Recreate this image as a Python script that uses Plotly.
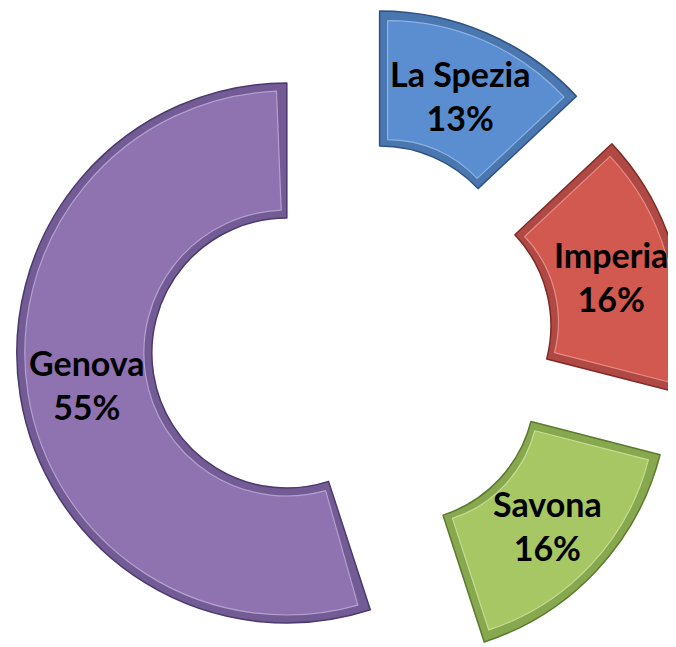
import math
import plotly.graph_objects as go

labels = ["La Spezia", "Imperia", "Savona", "Genova"]
values = [13, 16, 16, 55]
colors = ["#5B8ED0", "#D2594F", "#A6C764", "#8F72B0"]
band_colors = ["#4A77B0", "#B04843", "#88A84F", "#735B95"]
edge_colors = ["#2F5282", "#7E2B27", "#5C7A2E", "#4B3A6D"]
light_colors = ["#8DB2E2", "#E48D87", "#C6DD92", "#B4A0CE"]

W, H = 676, 647
# layout constants in figure pixels: unexploded centre, explosion distance, radius, bevel width
CX, CY, EXPLODE, R, BEVEL = 345.0, 334.5, 67.0, 270.0, 8.0
HOLE = 0.5
LABEL_R = (1 + HOLE) / 2  # labels sit midway across the ring


def pie_part(names, vals, fills, lines, lw, cx, cy, rad, hole):
    return go.Pie(
        labels=names, values=vals, sort=False,
        direction="clockwise", rotation=0, hole=hole,
        marker=dict(colors=fills, line=dict(color=lines, width=lw)),
        textinfo="none",
        domain=dict(x=[(cx - rad) / W, (cx + rad) / W],
                    y=[1 - (cy + rad) / H, 1 - (cy - rad) / H]),
        showlegend=False, hoverinfo="skip",
    )


total = float(sum(values))
clear = "rgba(0,0,0,0)"
fig = go.Figure()
annotations = []
start = 0.0
for i, lab in enumerate(labels):
    span = 360.0 * values[i] / total
    mid = math.radians(start + span / 2)
    start += span
    ux, uy = math.sin(mid), -math.cos(mid)
    vx, vy = CX + EXPLODE * ux, CY + EXPLODE * uy
    half = min(R, vx, W - vx, vy, H - vy)

    # the slice itself (its rim forms the bevel band)
    fills = [clear] * len(labels)
    fills[i] = band_colors[i]
    lines = [clear] * len(labels)
    lines[i] = edge_colors[i]
    fig.add_trace(pie_part(labels, values, fills, lines, 1.5, vx, vy, half, HOLE))

    # inset face of the slice
    pre = sum(values[:i])
    post = sum(values[i + 1:])
    if span < 180:
        s = BEVEL / math.sin(math.radians(span / 2))
        fx, fy = vx + s * ux, vy + s * uy
        r2 = half - s - BEVEL
        hole2 = (half * HOLE - s + BEVEL) / r2
        trim = 0.0
    else:
        fx, fy = vx, vy
        r2 = half - BEVEL
        hole2 = (half * HOLE + BEVEL) / r2
        trim = math.degrees(BEVEL / (half * LABEL_R)) / 360.0 * total
    fig.add_trace(pie_part(
        ["_a", lab, "_b"], [pre + trim, values[i] - 2 * trim, post + trim],
        [clear, colors[i], clear], [clear, light_colors[i], clear], 1.2,
        fx, fy, r2, hole2))

    tx = vx + half * LABEL_R * ux
    ty = vy + half * LABEL_R * uy
    pct = round(100 * values[i] / total)
    annotations.append(dict(
        x=tx / W, y=1 - ty / H, xref="paper", yref="paper",
        text=f"{lab}<br>{pct}%", showarrow=False,
        xanchor="center", yanchor="middle", align="center",
        font=dict(family="Lato", size=34, color="black", weight="bold"),
    ))

fig.update_layout(
    width=W, height=H,
    margin=dict(l=0, r=0, t=0, b=0),
    paper_bgcolor="white",
    plot_bgcolor="white",
    annotations=annotations,
)

fig.write_html("out.html")
